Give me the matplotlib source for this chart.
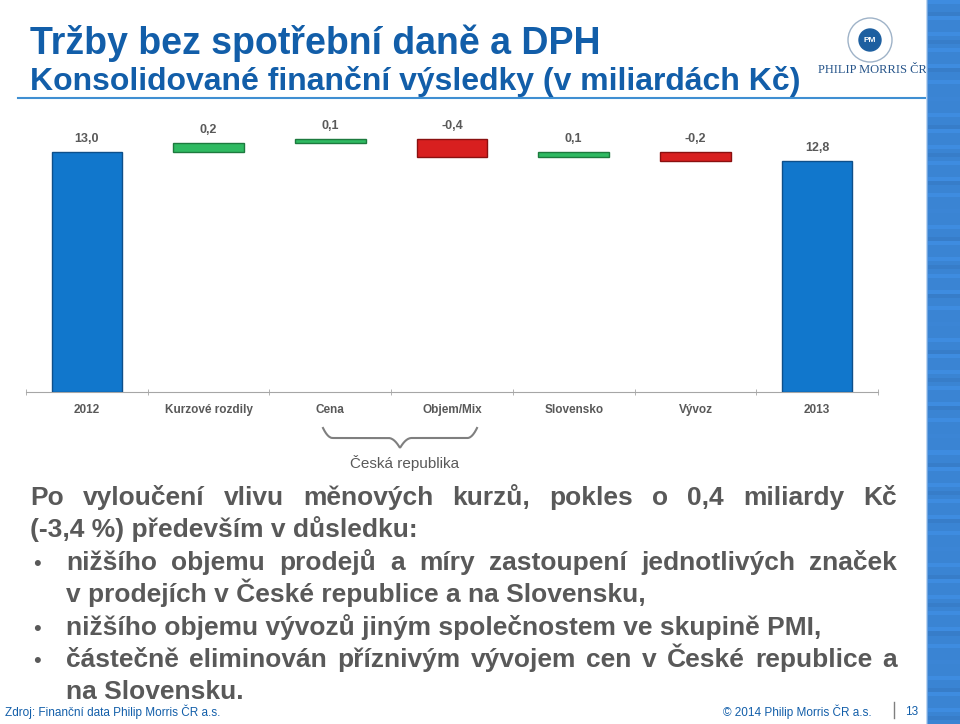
import numpy as np
import matplotlib
matplotlib.use("Agg")
import matplotlib.pyplot as plt
from matplotlib.patches import Circle

plt.rcParams['font.family'] = ['Liberation Sans', 'DejaVu Sans']

# data (miliardy Kč)
categories = ['2012', 'Kurzové rozdily', 'Cena', 'Objem/Mix', 'Slovensko', 'Vývoz', '2013']
start_value = 13.0
changes = [0.2, 0.1, -0.4, 0.1, -0.2]
end_value = 12.8
labels = ['13,0', '0,2', '0,1', '-0,4', '0,1', '-0,2', '12,8']

W, H = 960, 724
fig = plt.figure(figsize=(9.6, 7.24), dpi=100)
fig.patch.set_facecolor('white')

def fx(px):
    return px / W

def fy(py):
    return 1 - py / H

GRAY = '#595959'
BLUE = '#125ea9'

# --- waterfall ---
ax = fig.add_axes([fx(26), fy(392), fx(878 - 26), (392 - 110) / H])
ymin = 7.67
ax.set_ylim(ymin, ymin + 282 / 45)
ax.set_xlim(-0.5, len(categories) - 0.5)

x = np.arange(len(categories))
bottoms, heights, colors, edges = [], [], [], []
bottoms.append(ymin); heights.append(start_value - ymin)
colors.append('#1177cc'); edges.append('#0d4f8a')
level = start_value
for c in changes:
    lo = min(level, level + c)
    bottoms.append(lo); heights.append(abs(c))
    if c >= 0:
        colors.append('#2fba62'); edges.append('#1d7a3e')
    else:
        colors.append('#d81f1f'); edges.append('#8a1010')
    level += c
bottoms.append(ymin); heights.append(end_value - ymin)
colors.append('#1177cc'); edges.append('#0d4f8a')

ax.bar(x, heights, bottom=bottoms, width=0.58, color=colors,
       edgecolor=edges, linewidth=1.0, zorder=3)
for xi, b, h, lab in zip(x, bottoms, heights, labels):
    ax.annotate(lab, (xi, b + h), xytext=(0, 5), textcoords='offset points',
                ha='center', va='bottom', fontsize=9, color=GRAY,
                fontweight='bold')

for s in ['top', 'right', 'left']:
    ax.spines[s].set_visible(False)
ax.spines['bottom'].set_color('#a6a6a6')
ax.set_yticks([])
ax.set_xticks(x)
ax.set_xticklabels(categories, fontsize=8.5, color=GRAY, fontweight='bold')
ax.tick_params(axis='x', length=0, pad=9)
ax.set_xticks(np.arange(-0.5, len(categories)), minor=True)
ax.tick_params(axis='x', which='minor', length=4, direction='inout', color='#a6a6a6')

# overlay in pixel coordinates
line_ax = fig.add_axes([0, 0, 1, 1], facecolor='none')
line_ax.set_xlim(0, W); line_ax.set_ylim(H, 0); line_ax.axis('off')

# brace for Česká republika
bx0, bx1, by = 323, 477, 428
xs = np.linspace(0, 1, 200)
half = np.where(xs < 0.5, xs * 2, (1 - xs) * 2)
ys = by + 10 * (1 - (1 - np.clip(half * 8, 0, 1)) ** 2) + 10 * np.clip((half - 0.85) / 0.15, 0, 1) ** 2
line_ax.plot(bx0 + xs * (bx1 - bx0), ys, color='#7f7f7f', lw=1.5)
line_ax.text(405, 463, 'Česká republika', ha='center', va='center', fontsize=11, color=GRAY)

# header
line_ax.text(30, 54, 'Tržby bez spotřební daně a DPH', ha='left', va='baseline',
             fontsize=27, fontweight='bold', color=BLUE)
line_ax.text(30, 90, 'Konsolidované finanční výsledky (v miliardách Kč)', ha='left',
             va='baseline', fontsize=23, fontweight='bold', color=BLUE)
line_ax.plot([18, 926], [98, 98], color='#3f8fd2', lw=1.5)

# logo
line_ax.add_patch(Circle((870, 40), 11, color='#1d5fa0'))
line_ax.text(870, 40, 'PM', ha='center', va='center', fontsize=6, color='white', fontweight='bold')
line_ax.add_patch(Circle((870, 40), 22, fill=False, ec='#9fb3c8', lw=1))
line_ax.text(872, 70, 'PHILIP MORRIS ČR', ha='center', va='center', fontsize=9,
             family='Liberation Serif', color='#27558a')

# right stripe
strip = fig.add_axes([fx(926), 0, fx(34), 1])
n = 180
shade = 1.0 + 0.06 * (np.arange(n) % 4 == 0) - 0.05 * (np.arange(n) % 7 == 3)
base = np.array([0.23, 0.52, 0.83])
grid = np.clip(shade[:, None, None] * base[None, None, :], 0, 1) * np.ones((n, 34, 3))
grid[:, 0, :] = [0.75, 0.85, 0.95]
grid[:, 1, :] = [0.45, 0.65, 0.88]
strip.imshow(grid, aspect='auto', interpolation='nearest')
strip.axis('off')

# body text
fig.canvas.draw()
renderer = fig.canvas.get_renderer()
body_kw = dict(fontsize=19, fontweight='bold', color=GRAY, va='baseline', ha='left')

def put_line(words, x0, y, x1=None):
    if x1 is None:
        line_ax.text(x0, y, ' '.join(words), **body_kw)
        return
    texts = [line_ax.text(0, y, w, **body_kw) for w in words]
    widths = [t.get_window_extent(renderer).width for t in texts]
    gap = (x1 - x0 - sum(widths)) / (len(words) - 1)
    pos = x0
    for t, w in zip(texts, widths):
        t.set_x(pos)
        pos += w + gap

put_line('Po vyloučení vlivu měnových kurzů, pokles o 0,4 miliardy Kč'.split(), 30, 505, 897)
put_line('(-3,4 %) především v důsledku:'.split(), 30, 537)
put_line('nižšího objemu prodejů a míry zastoupení jednotlivých značek'.split(), 66, 570, 897)
put_line('v prodejích v České republice a na Slovensku,'.split(), 66, 602)
put_line('nižšího objemu vývozů jiným společnostem ve skupině PMI,'.split(), 66, 635)
put_line('částečně eliminován příznivým vývojem cen v České republice a'.split(), 66, 667, 897)
put_line('na Slovensku.'.split(), 66, 699)
for by_ in [570, 635, 667]:
    line_ax.text(37, by_, '•', ha='center', va='baseline', fontsize=16, color=GRAY)

# footer
line_ax.text(5, 712, 'Zdroj: Finanční data Philip Morris ČR a.s.', ha='left', va='center',
             fontsize=8.5, color=BLUE)
line_ax.text(872, 712, '© 2014 Philip Morris ČR a.s.', ha='right', va='center',
             fontsize=8.5, color=BLUE)
line_ax.plot([894, 894], [702, 718], color='#7f7f7f', lw=1)
line_ax.text(905, 712, '13', ha='left', va='center', fontsize=8.5, color=BLUE)

fig.savefig('out.png', dpi=100, facecolor='white')
